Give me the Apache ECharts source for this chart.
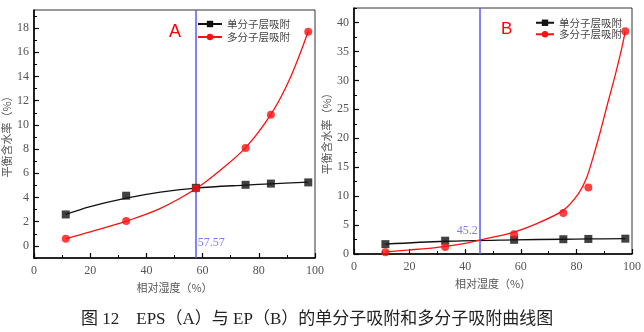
<!DOCTYPE html>
<html><head><meta charset="utf-8">
<script src="https://cdn.jsdelivr.net/npm/echarts@6/dist/echarts.min.js"></script>
<style>html,body{margin:0;padding:0;background:#fff}#c{width:644px;height:332px}</style>
</head><body><div id="c"></div>
<script>
// ---- data ----
const rh = [11.3, 32.8, 57.6, 75.3, 84.3, 97.6];
const monoA = [2.6, 4.15, 4.8, 5.05, 5.15, 5.25];
const multiA = [0.6, 2.05, 4.75, 8.1, 10.85, 17.7];
const monoB = [1.7, 2.3, 2.45, 2.55, 2.6, 2.65];
const multiB = [0.3, 1.2, 3.4, 7.1, 11.5, 38.5];
// fitted curves
const monoFitAx = [11.3, 20, 32.8, 45, 57.6, 75.3, 84.3, 97.6];
const monoFitAy = [2.6, 3.25, 3.95, 4.45, 4.78, 5.03, 5.13, 5.27];
const multiFitAx = [11.3, 20, 32.8, 45, 57.6, 66, 75.3, 84.3, 91, 97.6];
const multiFitAy = [0.58, 1.15, 2.04, 3.1, 4.72, 6.2, 8.12, 10.87, 13.8, 17.75];
const monoFitBx = [11.3, 32.8, 57.6, 75.3, 84.3, 97.6];
const monoFitBy = [1.7, 2.2, 2.45, 2.55, 2.6, 2.66];
const multiFitBx = [11.3, 20, 30, 40, 45.2, 50, 57.6, 66, 75, 80.7, 83.7, 86, 88.7, 90.9, 93.8, 96.2, 97.6];
const multiFitBy = [0.35, 0.7, 1.15, 1.85, 2.4, 2.9, 3.8, 5.3, 7.45, 10.4, 13.2, 16.7, 21.3, 25.4, 30.6, 35.3, 38.5];
const crossA = 57.57, crossB = 45.2;
const yTicksA = [0, 2, 4, 6, 8, 10, 12, 14, 16, 18];
const yMinorA = [-1, 1, 3, 5, 7, 9, 11, 13, 15, 17, 19];
const yTicksB = [0, 5, 10, 15, 20, 25, 30, 35, 40];
const yMinorB = [2.5, 7.5, 12.5, 17.5, 22.5, 27.5, 32.5, 37.5, 42.5];
const nameMono = '单分子层吸附', nameMulti = '多分子层吸附';
const xTitle = '相对湿度（%）', yTitle = '平衡含水率（%）';
const caption = '图 12    EPS（A）与 EP（B）的单分子吸附和多分子吸附曲线图';

const zip = (xs, ys) => xs.map((x, i) => [x, ys[i]]);
const serif = 'Liberation Serif';
const cjk = 'Noto Sans CJK SC';
const black = '#111', red = '#ff1010', blue = '#5a5af0';

function xAxis(g, gap) {
  return {
    type: 'value', gridIndex: g, min: 0, max: 100, interval: 20,
    name: xTitle, nameLocation: 'middle', nameGap: gap,
    nameTextStyle: {fontFamily: cjk, fontSize: 11, color: '#555'},
    axisLine: {onZero: false, lineStyle: {color: '#000', width: 1.6}},
    axisTick: {inside: true, length: 5, lineStyle: {color: '#000', width: 1.2}},
    minorTick: {show: true, splitNumber: 2, length: 3, lineStyle: {color: '#000', width: 1}},
    splitLine: {show: false},
    axisLabel: {fontFamily: serif, fontSize: 12, color: '#555', margin: 7}
  };
}
function yMajor(g, min, max, ticks, gap) {
  return {
    type: 'value', gridIndex: g, min: min, max: max,
    name: yTitle, nameLocation: 'middle', nameGap: gap, nameRotate: 90,
    nameTextStyle: {fontFamily: cjk, fontSize: 11, color: '#555'},
    axisLine: {show: true, onZero: false, lineStyle: {color: '#000', width: 1.6}},
    axisTick: {show: true, inside: true, length: 5, customValues: ticks, lineStyle: {color: '#000', width: 1.2}},
    splitLine: {show: false},
    axisLabel: {fontFamily: serif, fontSize: 12, color: '#555', margin: 5, customValues: ticks}
  };
}
function yMinor(g, min, max, ticks) {
  return {
    type: 'value', gridIndex: g, min: min, max: max, position: 'left',
    axisLine: {show: false, onZero: false},
    axisTick: {show: true, inside: true, length: 3, customValues: ticks, lineStyle: {color: '#000', width: 1}},
    splitLine: {show: false},
    axisLabel: {show: false}
  };
}
function pts(name, xi, yi, data, sym, color) {
  return {name: name, type: 'scatter', xAxisIndex: xi, yAxisIndex: yi, data: data,
    symbol: sym, symbolSize: 8, itemStyle: {color: color}, z: 5, silent: true};
}
function curve(name, xi, yi, data, color, s) {
  return {name: name, type: 'line', xAxisIndex: xi, yAxisIndex: yi, data: data,
    symbol: 'none', smooth: s,
    lineStyle: {color: color, width: 1.3}, z: 4, silent: true};
}
function dummy(name, xi, yi, sym, color) {
  return {name: name, type: 'line', xAxisIndex: xi, yAxisIndex: yi, data: [],
    symbol: sym, symbolSize: 7, itemStyle: {color: color}, lineStyle: {color: color, width: 1.3}};
}
function vline(name, xi, yi, x, y, pos) {
  return {name: name, type: 'scatter', xAxisIndex: xi, yAxisIndex: yi, data: [[x, y]],
    symbolSize: 0, silent: true,
    label: {show: true, position: pos, distance: 2, formatter: String(x),
      fontFamily: serif, fontSize: 12, color: blue},
    markLine: {silent: true, symbol: 'none', animation: false,
      lineStyle: {color: blue, width: 1.5, type: 'solid'}, label: {show: false},
      data: [{xAxis: x}]}
  };
}

const chart = echarts.init(document.getElementById('c'), null, {renderer: 'canvas'});
chart.setOption({
  animation: false,
  backgroundColor: '#fff',
  grid: [
    {left: 33, top: 10, width: 282, height: 248, show: true, borderColor: '#333', borderWidth: 1},
    {left: 354, top: 8, width: 279, height: 246, show: true, borderColor: '#333', borderWidth: 1}
  ],
  xAxis: [xAxis(0, 24), xAxis(1, 24)],
  yAxis: [
    yMajor(0, -1, 19.5, yTicksA, 22), yMinor(0, -1, 19.5, yMinorA),
    yMajor(1, 0, 42.5, yTicksB, 22), yMinor(1, 0, 42.5, yMinorB)
  ],
  legend: [
    {left: 197, top: 18, padding: 0, orient: 'vertical', itemWidth: 24, itemHeight: 8, itemGap: 1,
      data: [nameMono + 'A', nameMulti + 'A'], formatter: n => n.slice(0, -1),
      textStyle: {fontFamily: cjk, fontSize: 10.5, color: '#444', lineHeight: 12}, selectedMode: false},
    {left: 535, top: 17, padding: 0, orient: 'vertical', itemWidth: 18, itemHeight: 8, itemGap: 0,
      data: [nameMono + 'B', nameMulti + 'B'], formatter: n => n.slice(0, -1),
      textStyle: {fontFamily: cjk, fontSize: 10.5, color: '#444', lineHeight: 11.5}, selectedMode: false}
  ],
  graphic: [
    {type: 'text', left: 169, top: 23, style: {text: 'A', fontFamily: 'Liberation Sans', fontSize: 18, fill: '#ff0000'}},
    {type: 'text', left: 501, top: 21, style: {text: 'B', fontFamily: 'Liberation Sans', fontSize: 17, fill: '#ff0000'}},
    {type: 'text', left: 81, top: 311, style: {text: caption, fontFamily: serif + ', ' + cjk, fontSize: 17, fill: '#222'}}
  ],
  series: [
    curve('monoFitA', 0, 0, zip(monoFitAx, monoFitAy), black, 0.35),
    curve('multiFitA', 0, 0, zip(multiFitAx, multiFitAy), red, 0.35),
    pts('monoA', 0, 0, zip(rh, monoA), 'rect', black),
    pts('multiA', 0, 0, zip(rh, multiA), 'circle', red),
    vline('crossA', 0, 0, crossA, 0.25, 'right'),
    dummy(nameMono + 'A', 0, 0, 'rect', black),
    dummy(nameMulti + 'A', 0, 0, 'circle', red),
    curve('monoFitB', 1, 2, zip(monoFitBx, monoFitBy), black, 0.35),
    curve('multiFitB', 1, 2, zip(multiFitBx, multiFitBy), red, 0.25),
    pts('monoB', 1, 2, zip(rh, monoB), 'rect', black),
    pts('multiB', 1, 2, zip(rh, multiB), 'circle', red),
    vline('crossB', 1, 2, crossB, 4.0, 'left'),
    dummy(nameMono + 'B', 1, 2, 'rect', black),
    dummy(nameMulti + 'B', 1, 2, 'circle', red)
  ]
});
</script></body></html>
